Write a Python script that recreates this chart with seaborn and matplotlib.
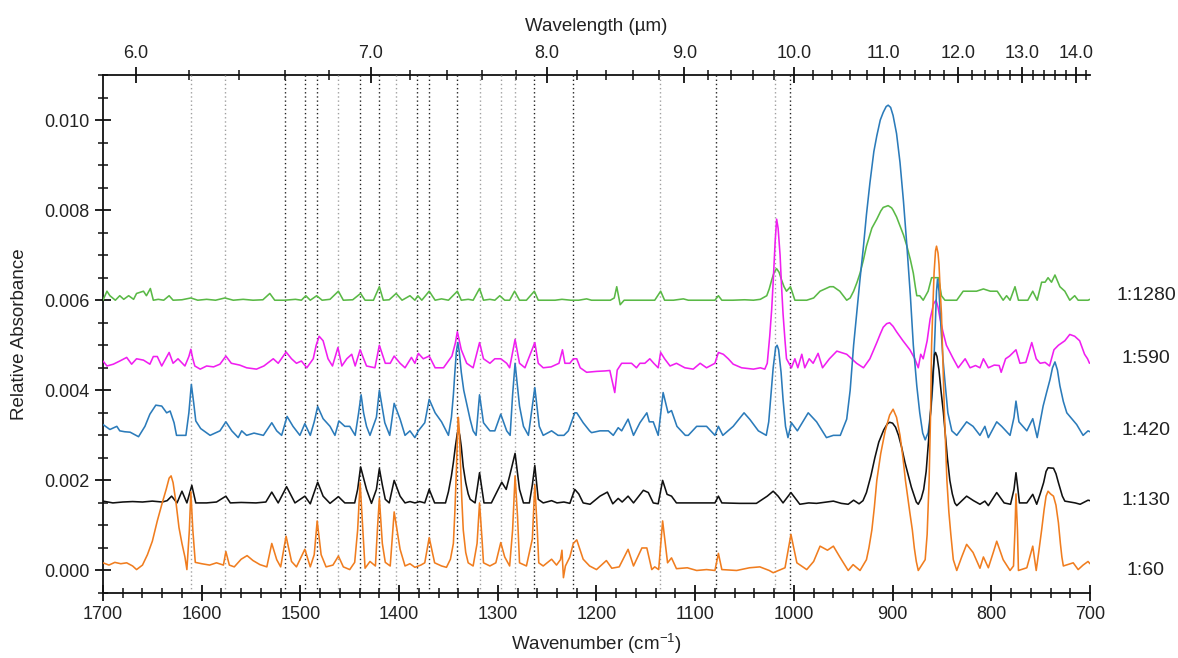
import numpy as np
import pandas as pd
import matplotlib
matplotlib.use("Agg")
import matplotlib.pyplot as plt
from matplotlib.ticker import MultipleLocator, FixedLocator, FormatStrFormatter
from matplotlib.transforms import blended_transform_factory
import seaborn as sns

# Dilution series (draw order: most dilute first, 1:60 on top)
dilutions = ["1:1280", "1:590", "1:420", "1:130", "1:60"]
line_colors = ["#5ab946", "#f01ef0", "#2b7bba", "#111111", "#f07d1f"]

# Spectra as (wavenumber in cm-1, relative absorbance x 1e-3)
spec_1_60 = [
    (1700, 0.17), (1694, 0.12), (1688, 0.18), (1682, 0.15), (1676, 0.17), (1670, 0.10),
    (1666, 0.02), (1660, 0.12), (1655, 0.35), (1650, 0.65), (1645, 1.10), (1640, 1.50),
    (1636, 1.80), (1633, 2.05), (1631, 2.10), (1629, 1.95), (1626, 1.50), (1623, 0.95),
    (1620, 0.60), (1617, 0.30), (1615, 0.02), (1612.5, 0.9), (1611, 1.75),
    (1609, 0.9), (1606.5, 0.18), (1600, 0.15), (1592, 0.12), (1585, 0.17), (1578, 0.12),
    (1575.5, 0.42), (1572, 0.12), (1567, 0.08), (1560, 0.25), (1554, 0.33), (1548, 0.22),
    (1541, 0.13), (1534, 0.08), (1529, 0.60), (1524, 0.24), (1520, 0.08), (1514.5, 0.76),
    (1509, 0.20), (1504, 0.08), (1495.5, 0.47), (1490, 0.08), (1486, 0.35), (1483, 1.10),
    (1479, 0.35), (1474, 0.08), (1467, 0.12), (1461.5, 0.32), (1456.5, 0.08), (1450, 0.02),
    (1445, 0.18), (1442, 0.9), (1439.5, 1.95), (1437, 1.0), (1434.5, 0.05), (1429.5, 0.20),
    (1424, 0.10), (1422, 0.9), (1420, 1.60), (1417, 0.6), (1414, 0.18), (1409, 0.10),
    (1405, 1.30), (1399, 0.47), (1394, 0.10), (1389, 0.15), (1384, 0.07), (1378, 0.12),
    (1374, 0.17), (1369.5, 0.73), (1364, 0.17), (1357, 0.10), (1352, 0.07), (1348, 0.25),
    (1345, 0.60), (1343.5, 1.3), (1342, 2.2), (1341, 2.9), (1340, 3.40), (1339, 3.1),
    (1338, 2.5), (1336.5, 1.6), (1335, 0.90), (1332.5, 0.40), (1330, 0.17), (1325, 0.10),
    (1321, 0.6), (1318.5, 1.50), (1316, 0.7), (1314.5, 0.17), (1308, 0.10), (1302, 0.17),
    (1297, 0.62), (1293, 0.30), (1288, 0.10), (1285, 0.9), (1282.5, 2.10), (1280, 1.2),
    (1278, 0.17), (1271, 0.10), (1265, 0.7), (1262.5, 1.90), (1260, 0.9), (1258.5, 0.17),
    (1254, 0.10), (1245.5, 0.25), (1240.5, 0.12), (1236.5, 0.24), (1235, 0.45), (1233.5, -0.16),
    (1231.5, 0.10), (1227, 0.30), (1223.5, 0.60), (1220, 0.68), (1213.5, 0.25), (1207, 0.10),
    (1200, 0.02), (1190, 0.22), (1184.5, 0.05), (1177, 0.08), (1168, 0.47), (1162.5, 0.10),
    (1154, 0.50), (1149, 0.50), (1144, 0.02), (1141, 0.08), (1137, 0.02), (1133, 1.10),
    (1128, 0.17), (1124, 0.28), (1119, 0.04), (1108, 0.06), (1098.5, 0.00), (1088.5, 0.02),
    (1080, 0.00), (1076.5, 0.38), (1073, 0.02), (1058, 0.00), (1045, 0.06), (1034.5, 0.08),
    (1025, 0.00), (1021, -0.05), (1009, 0.06), (1003, 0.80), (997, 0.17), (987, 0.02),
    (980, 0.20), (973.5, 0.54), (966, 0.45), (960, 0.54), (953.5, 0.30), (945, 0.00),
    (940, 0.13), (933, 0.00), (926.5, 0.24), (924, 0.5), (921, 0.9), (918.5, 1.4),
    (916, 2.00), (912, 2.6), (907.5, 3.10), (903, 3.45), (899.5, 3.58), (896, 3.4),
    (892.5, 3.00), (889.5, 2.5), (887, 2.0), (884.5, 1.6), (882.5, 1.28), (880, 0.9),
    (878, 0.5), (876, 0.2), (874, 0.00), (867, 0.24), (865, 0.8), (863, 2.0),
    (861.5, 3.5), (860.5, 5.00), (859, 6.0), (858, 6.6), (856.5, 7.1), (855.5, 7.20),
    (854, 7.05), (853, 6.8), (851.5, 6.1), (850.5, 5.70), (849, 4.6), (847.5, 3.5),
    (845, 2.00), (843, 1.3), (841, 0.8), (838.5, 0.24), (835, 0.00), (830, 0.30),
    (825, 0.58), (818.5, 0.40), (811.5, 0.05), (808, 0.30), (803, 0.06), (798, 0.4),
    (794.5, 0.65), (788, 0.24), (781, 0.00), (777.5, 0.10), (776, 0.9), (775, 1.70),
    (773.5, 0.9), (772.5, 0.00), (764, 0.06), (758, 0.54), (754.5, 0.00), (752, 0.4),
    (749, 0.90), (746.5, 1.35), (744.5, 1.65), (742.5, 1.76), (740, 1.70), (737, 1.65),
    (734.5, 1.45), (732, 1.06), (730, 0.6), (728.5, 0.3), (727, 0.10), (717, 0.17),
    (712, 0.02), (707, 0.12), (702, 0.20), (700, 0.15),
]

spec_1_130 = [
    (1700, 1.54), (1690, 1.50), (1680, 1.52), (1670, 1.53), (1660, 1.52), (1650, 1.54),
    (1640, 1.52), (1635, 1.55), (1630.5, 1.65), (1625, 1.50), (1620, 1.76), (1615, 1.50),
    (1610, 1.89), (1606, 1.50), (1595, 1.50), (1585, 1.52), (1575.5, 1.65), (1571, 1.50),
    (1560, 1.51), (1545, 1.50), (1535, 1.52), (1529, 1.74), (1522.5, 1.50), (1514, 1.86),
    (1505.5, 1.50), (1495.5, 1.65), (1490, 1.48), (1482.5, 1.96), (1477, 1.65), (1470, 1.49),
    (1461.5, 1.64), (1455, 1.50), (1445, 1.50), (1442, 1.8), (1439, 2.30), (1433, 1.80),
    (1428, 1.49), (1423, 1.8), (1420, 2.26), (1417, 1.9), (1414, 1.58), (1410, 1.50),
    (1405, 2.00), (1399, 1.65), (1394, 1.50), (1389, 1.53), (1384, 1.50), (1379, 1.53),
    (1374, 1.50), (1369.5, 1.80), (1364, 1.50), (1353, 1.50), (1350, 1.75), (1347, 2.10),
    (1345, 2.4), (1343, 2.75), (1341, 3.05), (1340, 3.13), (1338.5, 3.0), (1337, 2.75),
    (1335, 2.30), (1332.5, 1.95), (1330, 1.70), (1328, 1.58), (1323, 1.50), (1321, 1.8),
    (1318.5, 2.17), (1316, 1.8), (1314, 1.50), (1306.5, 1.50), (1296, 1.96), (1291.5, 1.80),
    (1288, 2.10), (1282.5, 2.60), (1278, 1.80), (1274, 1.50), (1268, 1.50), (1265, 1.9),
    (1262.5, 2.33), (1259, 1.58), (1254, 1.50), (1245.5, 1.55), (1240, 1.50), (1233, 1.52),
    (1227, 1.49), (1222, 1.80), (1218, 1.70), (1213.5, 1.50), (1206.5, 1.47), (1196.5, 1.65),
    (1189, 1.74), (1183.5, 1.48), (1178, 1.60), (1174, 1.52), (1168, 1.65), (1162.5, 1.50),
    (1152.5, 1.78), (1147.5, 1.73), (1142.5, 1.50), (1137.5, 1.48), (1133, 2.00), (1128.5, 1.69),
    (1124, 1.65), (1119, 1.50), (1100, 1.50), (1085, 1.50), (1080, 1.50), (1076.5, 1.65),
    (1073, 1.50), (1055, 1.49), (1038, 1.49), (1027, 1.65), (1021, 1.76), (1016, 1.65),
    (1011, 1.50), (1003, 1.73), (994, 1.47), (985, 1.50), (977, 1.49), (967, 1.52),
    (960, 1.54), (952, 1.49), (945, 1.47), (939.5, 1.56), (934, 1.48), (930, 1.55),
    (926.5, 1.73), (922, 2.1), (918, 2.5), (914, 2.85), (909, 3.12), (905.5, 3.25),
    (903, 3.29), (900, 3.27), (897, 3.18), (894, 3.0), (891, 2.75), (887.5, 2.4),
    (884, 2.1), (881, 1.85), (878, 1.65), (876, 1.52), (874, 1.47), (871, 1.6),
    (868.5, 1.8), (866, 2.2), (863.5, 2.9), (861, 3.7), (859, 4.4), (857.5, 4.8),
    (856.5, 4.84), (855, 4.75), (853, 4.45), (851, 4.0), (848.5, 3.5), (846.5, 3.0),
    (844.5, 2.5), (842, 2.0), (839.5, 1.7), (837, 1.5), (835, 1.44), (825, 1.65),
    (818, 1.55), (811.5, 1.47), (806.5, 1.54), (803, 1.44), (794.5, 1.73), (787, 1.50),
    (780.5, 1.47), (777, 1.8), (775, 2.17), (773, 1.8), (771.5, 1.50), (764, 1.50),
    (758, 1.69), (754, 1.47), (750.5, 1.7), (747, 1.95), (744.5, 2.2), (742.5, 2.28),
    (737, 2.27), (734.5, 2.15), (732, 1.95), (728, 1.65), (725.5, 1.54), (715, 1.50),
    (710, 1.47), (702, 1.56), (700, 1.55),
]

spec_1_420 = [
    (1700, 3.24), (1693, 3.13), (1686, 3.20), (1683, 3.10), (1678, 3.08), (1672.5, 3.07),
    (1664, 2.97), (1657.5, 3.20), (1652.5, 3.47), (1646.5, 3.67), (1640.5, 3.65), (1635.5, 3.50),
    (1632, 3.54), (1628, 3.28), (1625.5, 3.00), (1616, 3.00), (1613, 3.5), (1610.5, 4.13),
    (1608, 3.7), (1606, 3.32), (1601, 3.15), (1591.5, 3.00), (1581.5, 3.10), (1575.5, 3.30),
    (1569.5, 3.10), (1563, 2.95), (1559.5, 3.10), (1554.5, 3.00), (1547, 3.05), (1537.5, 3.00),
    (1529, 3.28), (1524, 3.10), (1519, 3.00), (1513.5, 3.42), (1507.5, 3.20), (1500.5, 3.00),
    (1495.5, 3.26), (1490, 3.00), (1486, 3.3), (1482.5, 3.64), (1477, 3.37), (1470, 3.20),
    (1465, 3.00), (1461, 3.32), (1455, 3.20), (1450, 3.20), (1444.5, 3.00), (1441, 3.5),
    (1438.5, 3.90), (1436, 3.5), (1433, 3.20), (1429.5, 3.00), (1423, 3.4), (1420, 4.00),
    (1417, 3.6), (1414.5, 3.28), (1409.5, 3.00), (1405, 3.71), (1399, 3.36), (1394, 3.00),
    (1389, 3.10), (1384, 2.95), (1380.5, 3.10), (1374, 3.28), (1369.5, 3.80), (1363.5, 3.50),
    (1357, 3.30), (1350, 3.00), (1347, 3.4), (1345, 3.9), (1343.5, 4.40), (1342, 4.85),
    (1340.5, 5.06), (1339, 4.85), (1337, 4.40), (1334.5, 4.0), (1331.5, 3.70), (1328, 3.35),
    (1325, 3.10), (1322, 3.00), (1318.5, 3.90), (1314.5, 3.28), (1308, 3.10),
    (1303, 3.10), (1297, 3.47), (1291, 3.10), (1287.5, 3.00), (1285, 3.9), (1282.5, 4.60),
    (1278, 3.65), (1274, 3.20), (1269, 3.00), (1262.5, 4.06), (1258, 3.20), (1254, 3.00),
    (1245.5, 3.10), (1239, 3.00), (1233, 3.00), (1228.5, 3.10), (1222, 3.50), (1220, 3.50),
    (1213.5, 3.28), (1207, 3.10), (1205, 3.06), (1196.5, 3.10), (1188, 3.10), (1183, 3.00),
    (1178, 3.17), (1174.5, 3.10), (1168, 3.36), (1162.5, 3.00), (1156, 3.28), (1149, 3.50),
    (1146.5, 3.30), (1142.5, 3.30), (1137.5, 3.00), (1132.5, 3.95), (1127.5, 3.50), (1124, 3.55),
    (1118.5, 3.20), (1110, 3.00), (1107, 3.00), (1098.5, 3.20), (1088.5, 3.20), (1080, 3.00),
    (1076.5, 3.20), (1072, 3.00), (1061.5, 3.20), (1050.5, 3.50), (1044.5, 3.35), (1036, 3.10),
    (1028, 3.00), (1025.5, 3.3), (1024, 3.70), (1021, 4.5), (1018.5, 4.95), (1017, 5.00),
    (1015.5, 4.9), (1013, 4.4), (1011, 3.8), (1008.5, 3.2), (1006, 2.95), (1002.5, 3.28),
    (996.5, 3.10), (985.5, 3.50), (977, 3.30), (967, 2.95), (960, 3.00), (953, 3.00),
    (946.5, 3.36), (943, 4.0), (939.5, 5.00), (936, 5.8), (933, 6.47), (929.5, 7.2),
    (926.5, 7.90), (923, 8.6), (919, 9.3), (916, 9.65), (912.5, 10.0), (909.5, 10.17),
    (906.5, 10.3), (904.5, 10.33), (902, 10.28), (899.5, 10.10), (896, 9.7), (892.5, 9.06),
    (889, 8.2), (885.5, 7.20), (882, 6.1), (879, 5.00), (875.5, 4.1), (872.5, 3.50),
    (869.5, 3.05), (867, 2.90), (864, 3.06), (861, 3.6), (859, 4.20), (857, 5.3),
    (855.5, 6.2), (854.5, 6.47), (853, 6.2), (851, 5.4), (849, 4.7), (847, 4.20),
    (844, 3.5), (840, 3.10), (835, 3.00), (825, 3.30),
    (818.5, 3.20), (811.5, 3.00), (806.5, 3.20), (803, 2.95), (794.5, 3.30), (789.5, 3.20),
    (781, 3.00), (777, 3.4), (775, 3.76), (772, 3.3), (764, 3.10), (758, 3.37),
    (753.5, 2.95), (750.5, 3.3), (747.5, 3.65), (744, 3.95), (740.5, 4.24), (738, 4.5),
    (735.5, 4.63), (733, 4.45), (730.5, 4.10), (727, 3.75), (723.5, 3.50),
    (713.5, 3.24), (707, 3.00), (702, 3.10), (700, 3.08),
]

spec_1_590 = [
    (1700, 4.65), (1696, 4.54), (1689.5, 4.58), (1683, 4.65), (1676, 4.73), (1671, 4.58),
    (1666, 4.70), (1659, 4.67), (1652.5, 4.58), (1649, 4.75), (1645, 4.75), (1640.5, 4.54),
    (1633, 4.84), (1629, 4.60), (1624, 4.70), (1617, 4.54), (1613, 4.75), (1611, 4.91),
    (1609, 4.70), (1607, 4.54), (1601.5, 4.47), (1595, 4.54), (1588, 4.52), (1581.5, 4.58),
    (1575.5, 4.76), (1570, 4.60), (1561.5, 4.56), (1554.5, 4.50), (1544.5, 4.47), (1537, 4.54),
    (1527.5, 4.70), (1522.5, 4.60), (1514.5, 4.85), (1509, 4.70), (1504, 4.60), (1499, 4.65),
    (1493.5, 4.50), (1487, 4.70), (1484, 5.0), (1481, 5.20), (1477, 5.10), (1472, 4.70),
    (1467.5, 4.54), (1462, 4.95), (1458, 4.54), (1453, 4.70), (1448, 4.80), (1444.5, 4.54),
    (1439.5, 4.90), (1433, 4.54), (1424.5, 4.50), (1420, 5.00), (1414, 4.60), (1409, 4.60),
    (1405, 4.76), (1399, 4.60), (1394, 4.50), (1387.5, 4.73), (1384, 4.60), (1380.5, 4.82),
    (1375.5, 4.70), (1369.5, 4.76), (1363.5, 4.50), (1355, 4.50), (1346.5, 4.76), (1343, 5.05),
    (1341, 5.30), (1339, 5.1), (1337, 4.90), (1331.5, 4.60), (1325, 4.50), (1318.5, 5.06),
    (1314.5, 4.70), (1308, 4.60), (1303, 4.70), (1297, 4.70), (1291, 4.60), (1288, 4.50),
    (1282.5, 5.13), (1278, 4.60), (1272.5, 4.50), (1262.5, 5.06), (1259, 4.60), (1254, 4.50),
    (1246, 4.52), (1238, 4.60), (1234.5, 4.90), (1232, 4.60), (1227, 4.60), (1223.5, 4.70),
    (1220, 4.70), (1216.5, 4.50), (1210, 4.40), (1200, 4.42), (1191.5, 4.43), (1186.5, 4.44),
    (1181.5, 3.95), (1179, 4.45), (1174.5, 4.60), (1169.5, 4.60), (1164.5, 4.60), (1159.5, 4.50),
    (1156, 4.60), (1151, 4.60), (1146, 4.70), (1142, 4.60), (1137.5, 4.50), (1135, 4.84),
    (1131, 4.70), (1125.5, 4.54), (1119, 4.60), (1110.5, 4.50), (1102, 4.47), (1095, 4.60),
    (1088.5, 4.50), (1080, 4.60), (1076.5, 4.84), (1071.5, 4.80), (1066.5, 4.70), (1061.5, 4.58),
    (1053, 4.50), (1041, 4.47), (1034, 4.50), (1029.5, 4.47), (1027, 4.6), (1024.5, 5.20),
    (1022.5, 5.8), (1021, 6.4), (1019, 7.3), (1017.5, 7.80), (1016, 7.6), (1014, 7.0),
    (1012.5, 6.3), (1011, 5.70), (1009, 5.1), (1007.5, 4.70), (1002.5, 4.50), (999, 4.70),
    (996, 4.50), (992, 4.80), (989, 4.50), (984.5, 4.70), (980.5, 4.60), (975.5, 4.82),
    (971, 4.50), (964, 4.70), (956.5, 4.87), (946.5, 4.80), (936.5, 4.60), (929.5, 4.50),
    (923, 4.70), (916, 5.06), (912.5, 5.25), (909.5, 5.40), (906, 5.48), (903, 5.50),
    (899.5, 5.42), (896, 5.30), (889.5, 5.10), (882.5, 4.90), (877.5, 4.70),
    (874, 4.50), (871.5, 4.80), (869, 4.70), (865, 5.1), (862, 5.58), (858.5, 5.92),
    (856, 6.00), (854, 5.85), (852, 5.60), (849, 5.3), (845.5, 5.00), (838.5, 4.70),
    (833.5, 4.50), (826.5, 4.70), (821.5, 4.50), (816, 4.55), (811.5, 4.50), (808, 4.70),
    (803, 4.50), (797, 4.56), (792, 4.55), (790, 4.40), (785.5, 4.70), (781.5, 4.76),
    (775, 4.90), (771, 4.60), (765, 4.62), (759, 5.06), (754.5, 4.70), (750.5, 4.60),
    (745.5, 4.62), (741, 4.54), (736.5, 4.90), (732, 5.00), (725.5, 5.10), (720.5, 5.24),
    (715.5, 5.20), (710.5, 5.10), (705.5, 4.80), (702.5, 4.70), (700.5, 4.60),
]

spec_1_1280 = [
    (1700, 6.00), (1696, 6.20), (1693, 6.10), (1687.5, 6.00), (1683, 6.10), (1679, 6.02),
    (1674, 6.10), (1669, 6.02), (1666, 6.15), (1659, 6.20), (1656, 6.10), (1652, 6.26),
    (1649, 6.00), (1644, 6.02), (1638.5, 6.00), (1633, 6.10), (1629, 6.00), (1620, 6.01),
    (1611, 6.05), (1604, 6.00), (1595, 6.02), (1586, 6.00), (1576.5, 6.05), (1568, 6.00),
    (1558, 6.02), (1548, 6.00), (1538, 6.01), (1531, 6.15), (1526, 6.00), (1516, 6.00),
    (1505, 6.02), (1499, 6.00), (1494.5, 6.10), (1490, 6.00), (1483.5, 6.10), (1478, 6.00),
    (1470, 6.02), (1461.5, 6.20), (1456.5, 6.00), (1447, 6.01), (1439, 6.15), (1434.5, 6.00),
    (1426, 6.00), (1420, 6.30), (1416, 6.00), (1410, 6.01), (1403, 6.15), (1397, 6.00),
    (1389, 6.10), (1384, 6.00), (1381, 6.10), (1377, 6.00), (1369.5, 6.20), (1363.5, 6.00),
    (1357, 6.03), (1350, 6.00), (1341, 6.20), (1337, 6.00), (1330, 6.02), (1325, 6.00),
    (1318.5, 6.26), (1314.5, 6.00), (1308, 6.02), (1303, 6.00), (1298, 6.10), (1293, 6.00),
    (1288, 6.00), (1283, 6.20), (1278, 6.00), (1271, 6.00), (1263, 6.20), (1259, 6.00),
    (1250, 6.00), (1242, 6.00), (1235, 6.02), (1226, 6.00), (1218, 6.00), (1210, 6.03),
    (1205, 6.00), (1196, 6.00), (1186, 6.00), (1182, 6.05), (1179.5, 6.30), (1176, 5.90),
    (1172, 6.00), (1165, 6.00), (1158, 6.00), (1148, 6.00), (1141, 6.00), (1135, 6.20),
    (1131, 6.00), (1122, 6.00), (1112, 6.03), (1107, 6.00), (1098, 6.00), (1088, 6.00),
    (1080, 6.00), (1076.5, 6.10), (1073, 6.00), (1062, 6.00), (1050, 6.01), (1041, 6.00),
    (1034, 6.02), (1027.5, 6.10), (1025, 6.25), (1022.5, 6.45), (1020, 6.62), (1017.5, 6.70),
    (1015, 6.62), (1012.5, 6.45), (1010, 6.30), (1007.5, 6.20), (1003.5, 6.30), (999, 6.00),
    (994, 6.00), (987, 6.00), (980, 6.05), (973.5, 6.20), (963.5, 6.30), (960, 6.30),
    (953.5, 6.20), (946.5, 6.00), (943, 6.05), (939.5, 6.20), (936, 6.40), (933, 6.60),
    (929.5, 6.90), (926.5, 7.20), (921, 7.6), (916, 7.80), (912, 7.98), (909.5, 8.06),
    (904.5, 8.10), (901, 8.05), (899.5, 8.00), (896, 7.85), (892.5, 7.65), (889, 7.45),
    (885.5, 7.20), (882, 6.90), (879, 6.60), (877, 6.30), (875.5, 6.10), (872.5, 6.10),
    (869, 6.00), (864, 6.20), (860.5, 6.50), (857, 6.50), (853.5, 6.50), (850.5, 6.10),
    (847, 6.00), (842, 6.00), (835, 6.00), (828.5, 6.20), (822, 6.20), (815, 6.20),
    (808, 6.25), (801, 6.20), (794, 6.20), (788, 6.00), (784.5, 6.10), (781, 6.00),
    (776, 6.30), (772.5, 6.00), (769, 6.00), (763, 6.00), (758, 6.20), (753.5, 6.00),
    (749, 6.40), (745.5, 6.40), (742.5, 6.50), (739, 6.40), (735.5, 6.56), (730.5, 6.30),
    (725.5, 6.20), (720.5, 6.00), (715.5, 6.10), (712, 6.00), (707, 6.00), (702, 6.00),
    (700, 6.02),
]

spectra = {
    "1:60": spec_1_60,
    "1:130": spec_1_130,
    "1:420": spec_1_420,
    "1:590": spec_1_590,
    "1:1280": spec_1_1280,
}

# Band positions (cm-1) marked with dotted guide lines
bands_gray = [1611, 1576, 1462, 1403, 1318, 1297, 1283, 1136, 1019]
bands_black = [1516, 1495, 1483, 1440, 1420, 1382, 1370, 1341, 1263, 1224, 1079, 1004]

# Wavelength axis ticks (µm)
wavelength_major = [6.0, 7.0, 8.0, 9.0, 10.0, 11.0, 12.0, 13.0, 14.0]
wavelength_minor = [m / 10 for m in range(58, 143, 2) if m % 10 != 0]

# Long-format table for seaborn
rows = []
for name in dilutions:
    for wn, a in spectra[name]:
        rows.append({"dilution": name, "wavenumber": wn, "absorbance": a * 1e-3})
df = pd.DataFrame(rows)

sns.set_theme(style="ticks")
plt.rcParams["font.family"] = ["Liberation Sans", "DejaVu Sans"]
plt.rcParams["mathtext.fontset"] = "custom"
plt.rcParams["mathtext.rm"] = "Liberation Sans"
plt.rcParams["mathtext.it"] = "Liberation Sans:italic"

W, H = 1178, 658
fig = plt.figure(figsize=(W / 100, H / 100), dpi=100)
ax = fig.add_axes([103 / W, 1 - 593 / H, 987 / W, (593 - 75) / H])

for b in bands_gray:
    ax.axvline(b, color="#a0a0a0", lw=1.0, ls=(0, (1, 2)), zorder=1)
for b in bands_black:
    ax.axvline(b, color="#222222", lw=1.0, ls=(0, (1, 2)), zorder=1)

sns.lineplot(
    data=df, x="wavenumber", y="absorbance", hue="dilution",
    hue_order=dilutions, palette=dict(zip(dilutions, line_colors)),
    estimator=None, sort=False, legend=False, linewidth=1.15, ax=ax, zorder=3,
)
for ln in ax.get_lines()[len(bands_gray) + len(bands_black):]:
    ln.set_solid_joinstyle("round")

ax.set_xlim(1700, 700)
ax.set_ylim(-0.0005, 0.011)
ax.xaxis.set_major_locator(MultipleLocator(100))
ax.xaxis.set_minor_locator(MultipleLocator(20))
ax.yaxis.set_major_locator(MultipleLocator(0.002))
ax.yaxis.set_minor_locator(MultipleLocator(0.0005))
ax.yaxis.set_major_formatter(FormatStrFormatter("%.3f"))
ax.xaxis.set_major_formatter(FormatStrFormatter("%d"))

for side in ("top", "right"):
    ax.spines[side].set_visible(False)
for side in ("left", "bottom"):
    ax.spines[side].set_linewidth(1.3)
    ax.spines[side].set_color("#111111")

ax.tick_params(which="major", direction="inout", length=11, width=1.3,
               color="#111111", labelsize=13, pad=4, labelcolor="#222222")
ax.tick_params(which="minor", direction="inout", length=7, width=1.1, color="#111111")

ax.set_xlabel("Wavenumber (cm$^{-1}$)", fontsize=13.5, color="#222222", labelpad=6)
ax.set_ylabel("Relative Absorbance", fontsize=13.5, color="#222222")
ax.yaxis.set_label_coords((28 - 103) / 987, 0.5)

def wn_to_um(x):
    x = np.asarray(x, dtype=float)
    with np.errstate(divide="ignore"):
        return 1e4 / x

sec = ax.secondary_xaxis("top", functions=(wn_to_um, wn_to_um))
sec.xaxis.set_major_locator(FixedLocator(wavelength_major))
sec.xaxis.set_minor_locator(FixedLocator(wavelength_minor))
sec.xaxis.set_major_formatter(FormatStrFormatter("%.1f"))
sec.spines["top"].set_linewidth(1.3)
sec.spines["top"].set_color("#111111")
sec.tick_params(which="major", direction="inout", length=11, width=1.3,
                color="#111111", labelsize=13, pad=4, labelcolor="#222222")
sec.tick_params(which="minor", direction="inout", length=7, width=1.1, color="#111111")
sec.set_xlabel("Wavelength (\u00b5m)", fontsize=13.5, color="#222222", labelpad=10)

# Dilution labels at the right of each trace
label_levels = {"1:1280": 0.0061, "1:590": 0.0047, "1:420": 0.0031, "1:130": 0.00156, "1:60": 0.0000}
trans = blended_transform_factory(ax.transAxes, ax.transData)
for name, yv in label_levels.items():
    ax.text((1146 - 103) / 987, yv, name, transform=trans, ha="center", va="center",
            fontsize=14, color="#222222", clip_on=False)

fig.savefig("out.png", dpi=100)
